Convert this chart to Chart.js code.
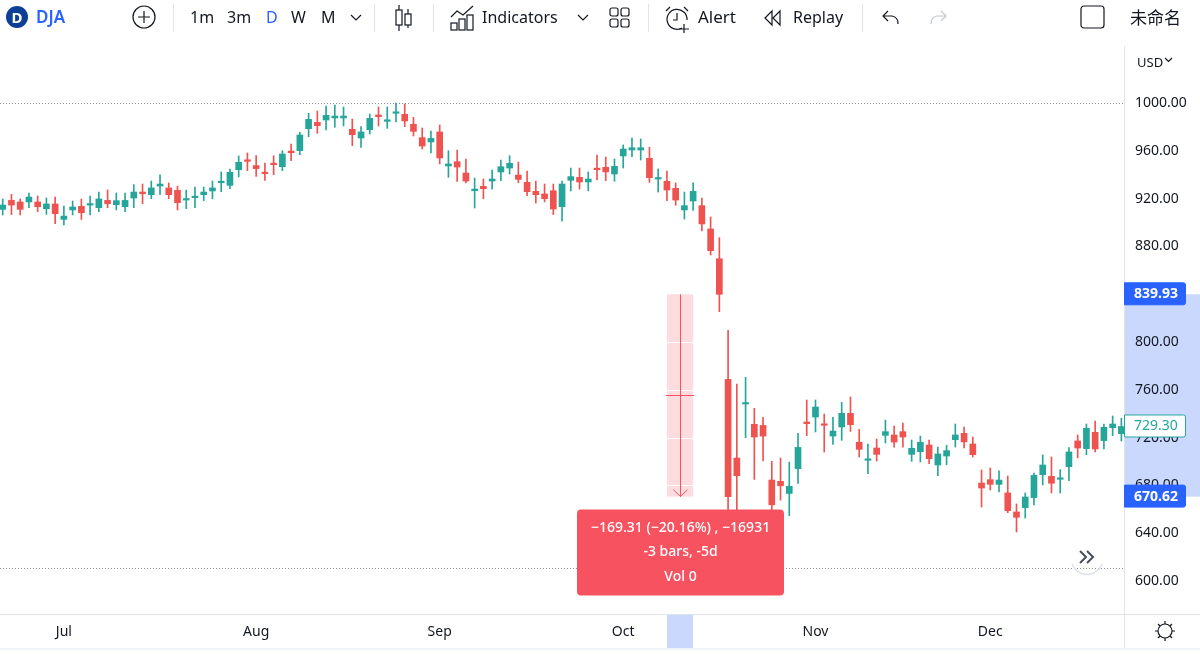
<!DOCTYPE html>
<html>
<head>
<meta charset="utf-8">
<title>DJA</title>
<script src="https://cdn.jsdelivr.net/npm/chart.js@4/dist/chart.umd.min.js"></script>
<style>
  html, body { margin: 0; padding: 0; background: #fff; overflow: hidden; }
  #wrap { position: relative; width: 1200px; height: 656px; font-family: "Noto Sans", sans-serif; color: #131722; }
  #chart { position: absolute; left: 0; top: 0; }
  .t { position: absolute; top: 6px; font-size: 16px; line-height: 22px; white-space: nowrap; }
  .sep { position: absolute; top: 4px; width: 1px; height: 28px; background: #e0e3eb; }
  svg.i { position: absolute; fill: none; stroke: #131722; stroke-width: 1.2; }
</style>
</head>
<body>
<div id="wrap">
  <canvas id="chart" width="1200" height="656"></canvas>

  <svg class="i" style="left:6px;top:6px" width="24" height="24"><circle cx="11" cy="11" r="11" fill="#0d3f94" stroke="none"/><text x="11" y="16.5" text-anchor="middle" font-size="15" font-weight="700" fill="#fff" stroke="none" font-family="Noto Sans">D</text></svg>
  <span class="t" style="left:36px;font-size:17px;color:#2962ff;font-weight:600">DJA</span>
  <svg class="i" style="left:132px;top:5px" width="24" height="24"><circle cx="12" cy="12" r="11"/><path d="M12 6v12M6 12h12"/></svg>
  <div class="sep" style="left:173px"></div>
  <span class="t" style="left:190px">1m</span>
  <span class="t" style="left:227px">3m</span>
  <span class="t" style="left:266px;color:#2962ff">D</span>
  <span class="t" style="left:291px">W</span>
  <span class="t" style="left:321px">M</span>
  <svg class="i" style="left:350px;top:13px" width="12" height="10"><path d="M1 2l5 5 5-5"/></svg>
  <div class="sep" style="left:374px"></div>
  <svg class="i" style="left:393px;top:4px" width="22" height="28"><path d="M6 1v5M6 21v6M15 5v5M15 21v3"/><rect x="3" y="6" width="6" height="15"/><rect x="12" y="10" width="6" height="11"/></svg>
  <div class="sep" style="left:433px"></div>
  <svg class="i" style="left:450px;top:5px" width="26" height="26"><path d="M1 12l6-6 6 4 10-9"/><rect x="1" y="18" width="6" height="7"/><rect x="9" y="14" width="6" height="11"/><rect x="17" y="10" width="6" height="15"/></svg>
  <span class="t" style="left:482px">Indicators</span>
  <svg class="i" style="left:577px;top:13px" width="12" height="10"><path d="M1 2l5 5 5-5"/></svg>
  <svg class="i" style="left:608px;top:6px" width="24" height="24"><rect x="2" y="2" width="8" height="8" rx="2"/><rect x="13" y="2" width="8" height="8" rx="2"/><rect x="2" y="13" width="8" height="8" rx="2"/><rect x="13" y="13" width="8" height="8" rx="2"/></svg>
  <div class="sep" style="left:648px"></div>
  <svg class="i" style="left:664px;top:4px" width="28" height="30"><path d="M18 24a10 10 0 1 1 5-8"/><path d="M13 9v7h-4M2 7l4-4M20 3l4 4"/><path d="M20 20v9M15 25h10"/></svg>
  <span class="t" style="left:698px;font-size:17px">Alert</span>
  <svg class="i" style="left:763px;top:8px" width="20" height="20"><path d="M9 3l-7 7 7 7zM17 3l-7 7 7 7z"/></svg>
  <span class="t" style="left:793px">Replay</span>
  <div class="sep" style="left:862px"></div>
  <svg class="i" style="left:881px;top:8px" width="20" height="20"><path d="M7 3L2 8l5 5M2 8h9a7 7 0 0 1 6 8"/></svg>
  <svg class="i" style="left:928px;top:8px;stroke:#c4c8d0" width="20" height="20"><path d="M13 3l5 5-5 5M18 8H9a7 7 0 0 0-6 8"/></svg>
  <svg class="i" style="left:1080px;top:5px" width="26" height="24"><rect x="1" y="1" width="23" height="22" rx="3"/></svg>
  <span class="t" style="left:1130px;font-size:17px;font-family:'Noto Sans CJK SC'">未命名</span>
  <span class="t" style="left:1137px;top:51px;font-size:13px">USD</span>
  <svg class="i" style="left:1164px;top:57px" width="10" height="8"><path d="M1 1l3.5 3.5L8 1"/></svg>
  <svg class="i" style="left:1154px;top:620px" width="22" height="22"><circle cx="11" cy="11" r="7"/><path d="M11 1v3M11 18v3M1 11h3M18 11h3M4 4l2 2M16 16l2 2M18 4l-2 2M4 18l2-2"/></svg>
  <svg class="i" style="left:1070px;top:540px;stroke:#e0e3eb;stroke-width:1.5" width="34" height="36"><path d="M2 24a16 16 0 0 0 30 0"/></svg>
  <svg class="i" style="left:1078px;top:548px;stroke:#4a4e5a;stroke-width:2" width="18" height="18"><path d="M2 3l6 6-6 6M9 3l6 6-6 6"/></svg>
</div>
<script>
const opens = [911.0,918.5,917.2,917.2,917.2,911.6,915.5,902.6,910.5,913.5,914.6,912.4,918.5,914.9,913.2,920.5,925.5,923.3,930.5,928.9,926.9,918.8,920.8,923.3,926.4,933.3,931.1,944.2,952.3,947.6,942.0,949.0,946.7,959.8,960.1,978.5,983.8,985.8,987.5,987.5,978.0,970.7,977.7,990.0,984.7,991.4,990.5,982.2,971.0,967.4,975.8,947.3,950.9,941.4,926.6,930.3,934.7,942.3,945.6,939.7,933.6,926.1,923.9,926.6,913.2,935.3,937.8,933.9,945.3,946.2,940.6,955.7,960.7,960.7,953.7,936.4,934.5,928.6,910.5,918.0,914.1,894.6,869.7,768.7,702.9,748.1,731.1,730.2,684.5,683.4,673.3,694.0,733.0,737.2,731.4,721.3,728.9,740.3,716.1,701.0,711.3,721.9,722.2,725.0,706.0,708.2,713.8,697.1,704.6,718.3,723.6,714.7,682.0,684.8,680.9,673.7,657.8,661.4,669.8,689.0,687.6,685.1,695.7,717.2,710.8,724.4,717.5,728.3,723.3];
const highs = [919.7,923.6,919.7,924.7,922.2,920.5,921.3,913.8,918.0,919.7,922.2,925.5,927.2,924.7,924.7,931.7,932.2,934.7,940.0,933.1,930.5,927.2,929.7,929.7,934.7,942.3,944.8,955.7,958.2,955.9,949.8,955.9,960.1,965.7,975.5,991.4,993.3,997.5,998.3,996.7,986.6,980.2,990.8,996.7,996.7,1000.0,999.2,988.0,979.1,976.6,981.6,960.1,960.7,953.1,937.2,936.4,943.9,952.3,955.9,950.6,943.1,934.7,932.2,932.2,934.7,945.6,945.6,942.3,956.5,954.8,953.2,964.9,970.7,969.9,962.9,944.8,943.1,933.1,925.5,933.1,920.5,904.6,887.3,809.7,764.8,770.4,744.5,736.9,700.1,702.9,699.5,723.5,751.5,751.5,739.7,736.9,749.5,754.0,726.9,714.6,718.8,734.7,729.7,732.2,718.0,721.3,718.0,712.1,713.5,731.4,728.9,720.5,692.9,694.6,692.1,687.9,664.5,673.7,690.4,705.5,703.8,693.2,711.6,722.2,731.4,733.9,731.4,738.1,736.2];
const lows = [906.3,906.6,906.3,912.4,909.1,906.8,899.0,897.9,906.3,902.6,906.3,909.1,912.4,910.5,909.1,912.4,915.8,919.9,923.3,919.9,910.5,911.6,912.4,918.3,919.9,925.8,928.3,938.1,943.4,938.6,935.3,940.0,943.4,951.7,956.8,971.8,974.6,977.4,979.7,980.8,964.3,962.9,974.1,980.8,978.8,984.1,980.2,972.4,961.5,958.2,949.0,937.8,934.4,933.1,912.1,919.9,928.0,935.0,940.6,933.3,922.5,916.3,917.2,906.6,901.2,926.4,928.0,926.6,935.6,935.0,934.5,945.6,955.1,952.3,933.6,925.5,918.3,914.4,902.9,910.2,892.9,872.8,825.4,652.0,655.0,719.9,685.0,700.4,655.0,667.7,654.6,681.7,721.6,724.7,707.9,714.4,717.7,725.2,703.8,689.8,700.4,715.5,712.1,712.1,700.1,699.6,698.2,688.1,697.3,712.1,711.3,703.8,661.9,676.2,674.5,657.2,641.0,652.7,663.6,680.4,673.7,673.7,684.0,703.0,705.7,708.0,710.5,721.6,717.2];
const closes = [914.6,914.6,911.0,921.3,913.2,915.5,907.4,905.4,913.0,908.2,915.5,919.7,915.8,918.3,918.5,925.5,924.1,928.9,932.2,923.3,916.6,919.7,921.9,925.5,928.9,934.4,942.0,950.4,951.2,945.1,940.9,948.4,957.3,958.4,973.2,986.3,981.0,989.7,989.1,989.1,973.5,975.8,987.2,988.6,985.8,992.5,985.0,976.3,964.0,970.4,954.0,949.0,946.4,934.7,928.0,928.3,936.4,946.7,949.5,936.1,925.8,923.3,919.9,911.3,932.2,938.4,933.9,936.4,944.2,942.3,947.0,961.5,962.6,962.6,937.5,937.3,927.2,918.8,914.1,926.1,898.8,876.4,839.9,670.6,688.1,748.6,720.5,721.3,663.8,679.7,679.2,711.8,731.7,745.6,730.3,725.5,740.3,730.8,710.2,701.8,706.0,725.0,716.3,720.5,711.0,716.1,702.4,706.3,709.1,722.2,716.4,705.7,677.8,680.9,684.5,658.9,653.3,670.3,688.4,697.1,681.8,685.9,708.0,711.3,727.8,710.5,728.6,731.4,729.3];

const priceTicks = [600, 640, 680, 720, 760, 800, 840, 880, 920, 960, 1000];
const monthLabels = ["Jul", "Aug", "Sep", "Oct", "Nov", "Dec"];
const monthBars = [7, 29, 50, 71, 93, 113];
const dottedLevels = [1000, 611];

const lastPrice = 729.3;
const measureFrom = 839.93;
const measureTo = 670.62;
const measureBars = [76, 79];
const measureLines = ["\u2212169.31 (\u221220.16%) , \u221216931", "-3 bars, -5d", "Vol 0"];

const UP = "#26a69a";
const DOWN = "#ef5350";
const BLUE = "#2962ff";
const BAND = "#c9d8fc";
const PINK = "rgba(247, 82, 95, 0.2)";
const RED = "#f7525f";
const LINE = "#e0e3eb";
const AXIS_FONT = '14px "Noto Sans", sans-serif';

const barColors = closes.map((close, i) => (close >= opens[i] ? UP : DOWN));
const wickData = highs.map((high, i) => ({ x: i, y: [lows[i], high] }));
const bodyData = closes.map((close, i) => ({ x: i, y: [opens[i], close] }));

function priceLabel(ctx, y, text, fill, color, border) {
  ctx.fillStyle = fill;
  ctx.strokeStyle = border || fill;
  ctx.beginPath();
  ctx.roundRect(1124.5, y - 11.5, 61, 22, [0, 2, 2, 0]);
  ctx.fill();
  ctx.stroke();
  ctx.fillStyle = color;
  ctx.font = border ? AXIS_FONT : 'bold 14px "Noto Sans", sans-serif';
  ctx.textAlign = "left";
  ctx.textBaseline = "middle";
  ctx.fillText(text, 1134, y);
}

// bands behind the scales, everything else on top of the candles
const overlayPlugin = {
  id: "overlay",
  beforeDraw(chart) {
    const { ctx, scales, chartArea } = chart;
    const top = scales.y.getPixelForValue(measureFrom);
    const bottom = scales.y.getPixelForValue(measureTo);
    const left = scales.x.getPixelForValue(measureBars[0]);
    const right = scales.x.getPixelForValue(measureBars[1]);
    ctx.save();
    ctx.fillStyle = BAND;
    ctx.fillRect(chartArea.right, top, 76, bottom - top);
    ctx.fillRect(left, chartArea.bottom, right - left, 34);
    ctx.fillStyle = PINK;
    ctx.fillRect(left, top, right - left, bottom - top);
    ctx.strokeStyle = "#fff";
    ctx.beginPath();
    priceTicks.forEach((tick) => {
      if (tick < measureFrom && tick > measureTo) {
        const y = Math.round(scales.y.getPixelForValue(tick)) + 0.5;
        ctx.moveTo(left, y);
        ctx.lineTo(right, y);
      }
    });
    ctx.stroke();

    ctx.strokeStyle = LINE;
    ctx.beginPath();
    ctx.moveTo(chartArea.right + 0.5, chartArea.bottom);
    ctx.lineTo(chartArea.right + 0.5, 648);
    ctx.moveTo(chartArea.right, chartArea.bottom + 0.5);
    ctx.lineTo(1200, chartArea.bottom + 0.5);
    ctx.stroke();
    ctx.fillStyle = "#f0f3fa";
    ctx.fillRect(0, 648, 1200, 2);

    ctx.strokeStyle = "#8a8e99";
    ctx.setLineDash([1, 2]);
    ctx.beginPath();
    dottedLevels.forEach((level) => {
      const y = Math.round(scales.y.getPixelForValue(level)) + 0.5;
      ctx.moveTo(chartArea.left, y);
      ctx.lineTo(chartArea.right, y);
    });
    ctx.stroke();
    ctx.restore();
  },
  afterDraw(chart) {
    const { ctx, scales } = chart;
    const top = scales.y.getPixelForValue(measureFrom);
    const bottom = scales.y.getPixelForValue(measureTo);
    const left = scales.x.getPixelForValue(measureBars[0]);
    const right = scales.x.getPixelForValue(measureBars[1]);
    const mid = Math.round((left + right) / 2) + 0.5;
    const middle = Math.round((top + bottom) / 2) + 0.5;

    ctx.save();
    ctx.strokeStyle = RED;
    ctx.beginPath();
    ctx.moveTo(mid, top);
    ctx.lineTo(mid, bottom);
    ctx.moveTo(left - 1, middle);
    ctx.lineTo(right + 1, middle);
    ctx.moveTo(mid - 7, bottom - 7);
    ctx.lineTo(mid, bottom);
    ctx.lineTo(mid + 7, bottom - 7);
    ctx.stroke();

    ctx.fillStyle = RED;
    ctx.beginPath();
    ctx.roundRect(mid - 103.5, bottom + 13, 207, 86, 4);
    ctx.fill();
    ctx.fillStyle = "#fff";
    ctx.font = '500 14px "Noto Sans", sans-serif';
    ctx.textAlign = "center";
    ctx.textBaseline = "middle";
    measureLines.forEach((line, i) => ctx.fillText(line, mid, bottom + 31 + i * 24.5));
    ctx.restore();

    priceLabel(ctx, top, measureFrom.toFixed(2), BLUE, "#fff");
    priceLabel(ctx, bottom, measureTo.toFixed(2), BLUE, "#fff");
    priceLabel(ctx, scales.y.getPixelForValue(lastPrice), lastPrice.toFixed(2), "#fff", UP, UP);
  }
};

new Chart(document.getElementById("chart"), {
  type: "bar",
  data: {
    datasets: [
      {
        data: wickData,
        backgroundColor: barColors,
        barThickness: 1,
        grouped: false
      },
      {
        data: bodyData,
        backgroundColor: barColors,
        barThickness: 6,
        minBarLength: 1.5,
        grouped: false
      }
    ]
  },
  options: {
    responsive: false,
    animation: false,
    devicePixelRatio: 1,
    layout: { padding: { top: 46, left: 0, right: 0, bottom: 0 } },
    plugins: { legend: { display: false }, tooltip: { enabled: false } },
    scales: {
      x: {
        type: "linear",
        offset: false,
        min: -0.31,
        max: 128.3,
        afterBuildTicks: (scale) => {
          scale.ticks = monthBars.map((value) => ({ value }));
        },
        afterFit: (scale) => {
          scale.height = 42;
        },
        grid: { display: false },
        border: { color: LINE },
        ticks: {
          color: "#131722",
          font: { family: "Noto Sans", size: 14 },
          maxRotation: 0,
          autoSkip: false,
          padding: 2,
          callback: (value) => monthLabels[monthBars.indexOf(value)]
        }
      },
      y: {
        position: "right",
        min: 572.4,
        max: 1047.7,
        afterBuildTicks: (scale) => {
          scale.ticks = priceTicks.map((value) => ({ value }));
        },
        afterFit: (scale) => {
          scale.width = 76;
        },
        grid: { display: false },
        border: { color: LINE },
        ticks: {
          color: "#131722",
          font: { family: "Noto Sans", size: 14 },
          autoSkip: false,
          padding: 3,
          callback: (value) => value.toFixed(2)
        }
      }
    }
  },
  plugins: [overlayPlugin]
});
</script>
</body>
</html>
